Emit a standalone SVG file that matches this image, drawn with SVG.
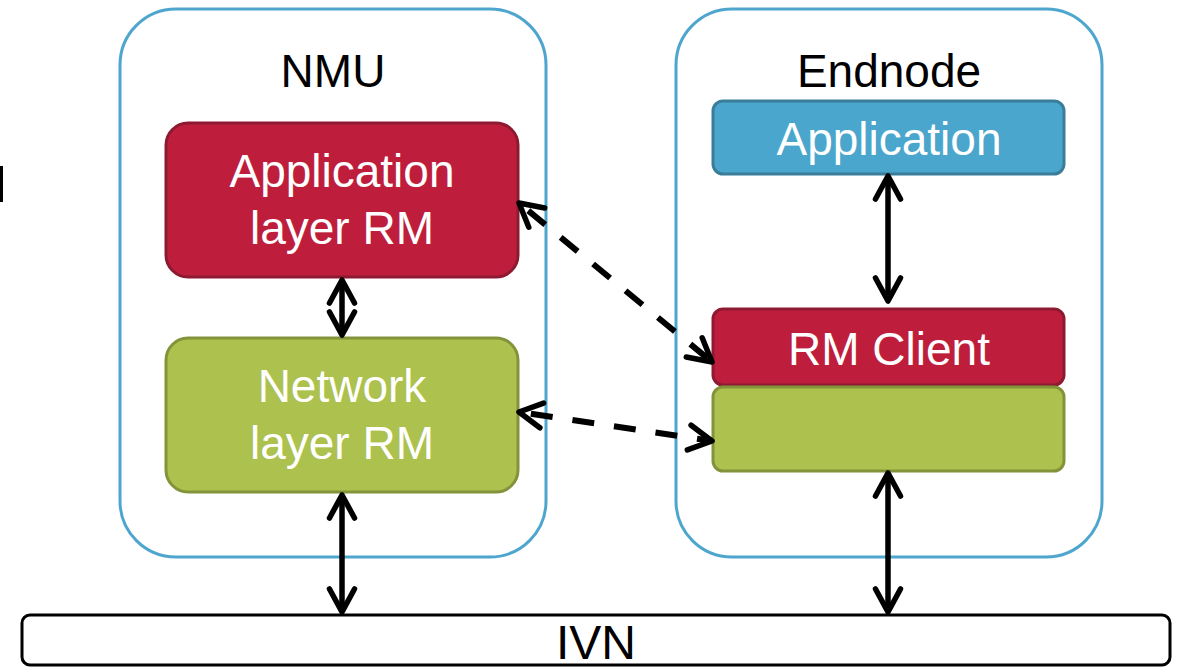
<svg xmlns="http://www.w3.org/2000/svg" width="1183" height="667" viewBox="0 0 1183 667">
<style>
.cont{fill:#ffffff;stroke:#4ea6cf;stroke-width:3}
.red{fill:#be1e3c;stroke:#8e1a31;stroke-width:3}
.green{fill:#adc14e;stroke:#83933a;stroke-width:3}
.blue{fill:#4ba6cd;stroke:#3a7d9a;stroke-width:3}
.t{font-family:"Liberation Sans",Arial,sans-serif;font-size:46px;text-anchor:middle}
.w{fill:#ffffff}
.k{fill:#000000}
.arr{fill:none;stroke:#000;stroke-width:5.5;marker-start:url(#ah);marker-end:url(#ah)}
.dash{stroke-dasharray:22 20;stroke-width:6}
</style>
<defs>
<marker id="ah" markerUnits="userSpaceOnUse" orient="auto-start-reverse" viewBox="-30 -20 40 40" refX="0" refY="0" markerWidth="40" markerHeight="40">
<path d="M -23 -12.5 L 0 0 L -23 12.5" fill="none" stroke="#000" stroke-width="5.5" stroke-linecap="round" stroke-linejoin="round" stroke-dasharray="none"/>
</marker>
</defs>
<rect x="0" y="166" width="3" height="36" fill="#000"/>
<g id="nmu">
<rect class="cont" x="120" y="9" width="426" height="548" rx="56"/>
<text class="t k" x="333" y="87">NMU</text>
</g>
<g id="endnode">
<rect class="cont" x="676" y="9" width="426" height="548" rx="56"/>
<text class="t k" x="889" y="87">Endnode</text>
</g>
<g id="app-layer-rm">
<rect class="red" x="166" y="123" width="352" height="154" rx="22"/>
<text class="t w" x="342" y="187">Application</text>
<text class="t w" x="342" y="244">layer RM</text>
</g>
<g id="network-layer-rm">
<rect class="green" x="166" y="338" width="352" height="154" rx="22"/>
<text class="t w" x="342" y="402">Network</text>
<text class="t w" x="342" y="459">layer RM</text>
</g>
<g id="application">
<rect class="blue" x="713" y="101" width="351" height="73" rx="10"/>
<text class="t w" x="889" y="155">Application</text>
</g>
<g id="rm-client">
<rect class="red" x="713" y="309" width="351" height="76" rx="10"/>
<text class="t w" x="889" y="365">RM Client</text>
</g>
<g id="endnode-network">
<rect class="green" x="713" y="387" width="351" height="84" rx="10"/>
</g>
<g id="ivn">
<rect x="22" y="615" width="1148" height="50" rx="8" fill="#fff" stroke="#000" stroke-width="3"/>
<text class="t k" x="596" y="659" style="font-size:48px">IVN</text>
</g>
<g id="connectors">
<line class="arr" x1="342" y1="280" x2="342" y2="335"/>
<line class="arr" x1="342" y1="495" x2="342" y2="612"/>
<line class="arr" x1="888" y1="176" x2="888" y2="301"/>
<line class="arr" x1="888" y1="473" x2="888" y2="612"/>
<line class="arr dash" x1="519" y1="203" x2="712" y2="362" stroke-dashoffset="-12"/>
<line class="arr dash" x1="519" y1="412" x2="712" y2="441" stroke-dashoffset="-12"/>
</g>
</svg>
